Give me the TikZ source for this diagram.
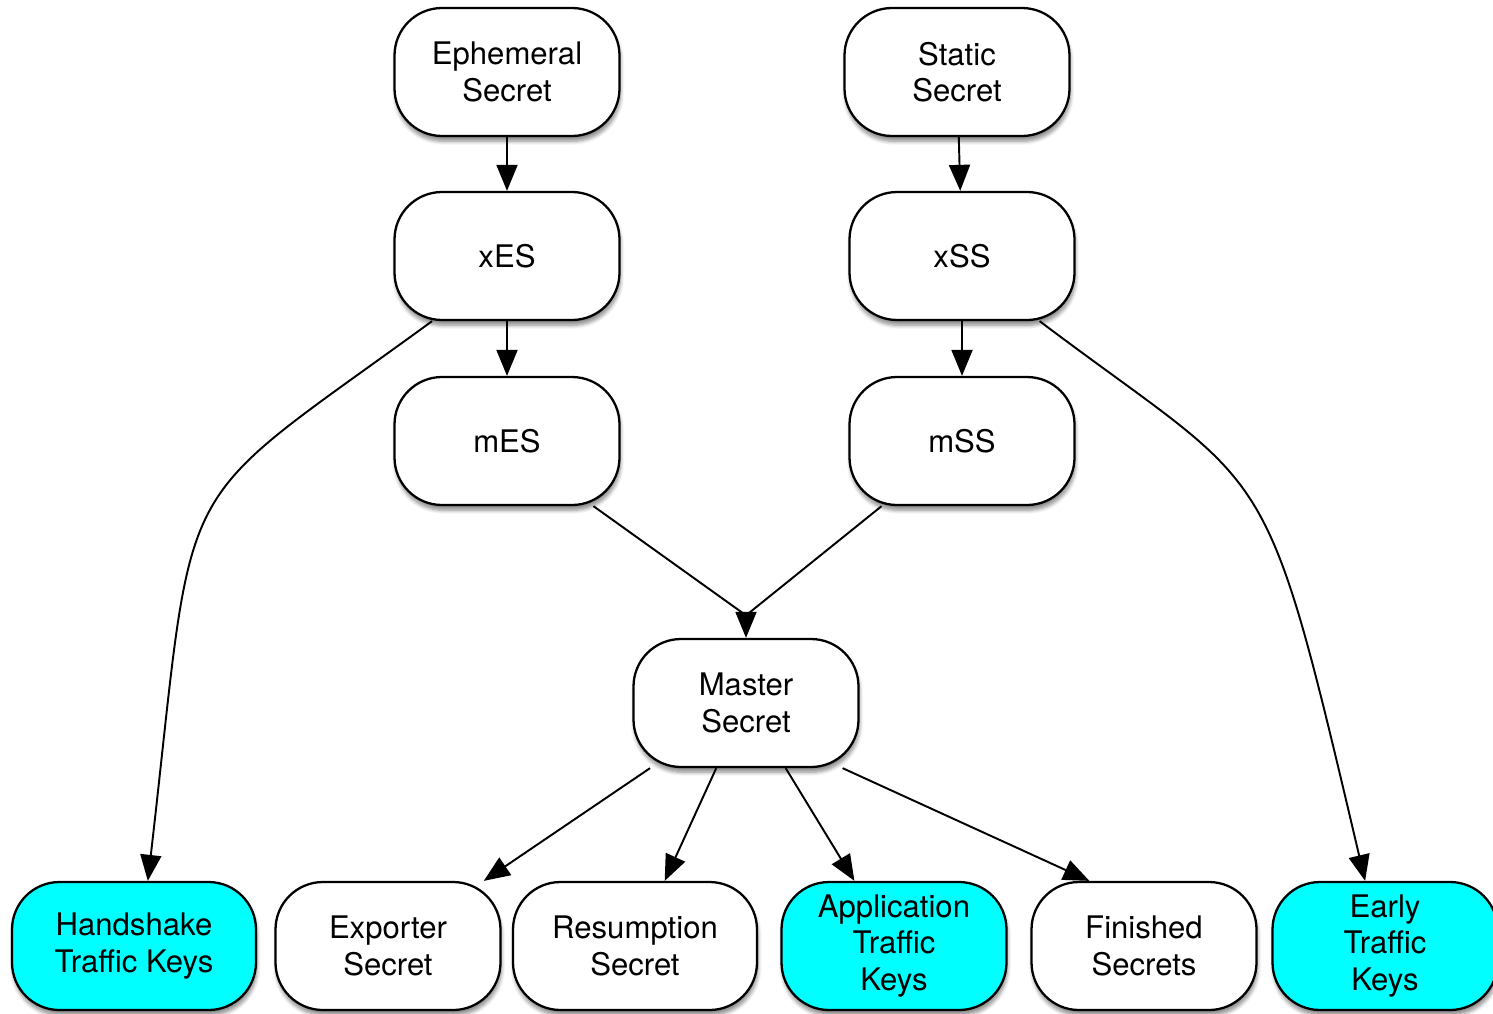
\documentclass[tikz,border=0pt]{standalone}
\usepackage{fontspec}
\setmainfont{TeX Gyre Heros}
\usetikzlibrary{shadows.blur,arrows.meta}
\definecolor{keycyan}{RGB}{0,255,255}
\tikzset{
  secret/.style = { draw, line width=1.3pt, fill=white, rectangle,
                    rounded corners=0.95cm, minimum width=4.5cm,
                    minimum height=2.56cm, align=center, inner sep=2pt,
                    font=\fontsize{17.7}{20.7}\selectfont,
                    blur shadow={shadow xshift=0.6pt, shadow yshift=-3pt,
                                 shadow blur steps=6, shadow opacity=45} },
  keys/.style   = { secret, fill=keycyan },
  wide/.style   = { minimum width=4.88cm },
  link/.style   = { line width=1.1pt, -{Triangle[length=5.2mm,width=4.2mm]} },
  plain/.style  = { line width=1.1pt }
}
\begin{document}
\begin{tikzpicture}
  \useasboundingbox (0,0) rectangle (29.86,-20.26);
  % Draw all secrets
  \node[secret] (eph)    at (10.14,-1.44)  {Ephemeral\\Secret};
  \node[secret] (stat)   at (19.14,-1.44)  {Static\\Secret};
  \node[secret] (xes)    at (10.14,-5.12)  {xES};
  \node[secret] (xss)    at (19.24,-5.12)  {xSS};
  \node[secret] (mes)    at (10.14,-8.82)  {mES};
  \node[secret] (mss)    at (19.24,-8.82)  {mSS};
  \node[secret] (master) at (14.92,-14.06) {Master\\Secret};
  % Draw bottom row
  \node[keys,wide]   (hs)    at (2.68,-18.92)  {Handshake\\Traffic Keys};
  \node[secret]      (exp)   at (7.76,-18.92)  {Exporter\\Secret};
  \node[secret,wide] (res)   at (12.70,-18.92) {Resumption\\Secret};
  \node[keys]        (app)   at (17.88,-18.92) {Application\\Traffic\\Keys};
  \node[secret]      (fin)   at (22.88,-18.92) {Finished\\Secrets};
  \node[keys]        (early) at (27.70,-18.92) {Early\\Traffic\\Keys};
  \path (master.north) ++(0,0.45) coordinate (join);
  % Draw all links
  \draw[link] (eph) -- (xes);
  \draw[link] (stat) -- (xss);
  \draw[link] (xes) -- (mes);
  \draw[link] (xss) -- (mss);
  \draw[plain] (mes.-37) -- (join);
  \draw[plain] (mss.219) -- (join);
  \draw[link] (join) -- (master.north);
  \draw[link] (xes.221) .. controls (3.3,-10.32) and (3.93,-9.18) .. (hs.78);
  \draw[link] (xss.-40) .. controls (25.48,-9.96) and (25.24,-8.86) .. (early.107);
  \draw[link] (master) -- (exp);
  \draw[link] (master) -- (res);
  \draw[link] (master) -- (app);
  \draw[link] (master.-34) -- (fin.130);
\end{tikzpicture}
\end{document}
